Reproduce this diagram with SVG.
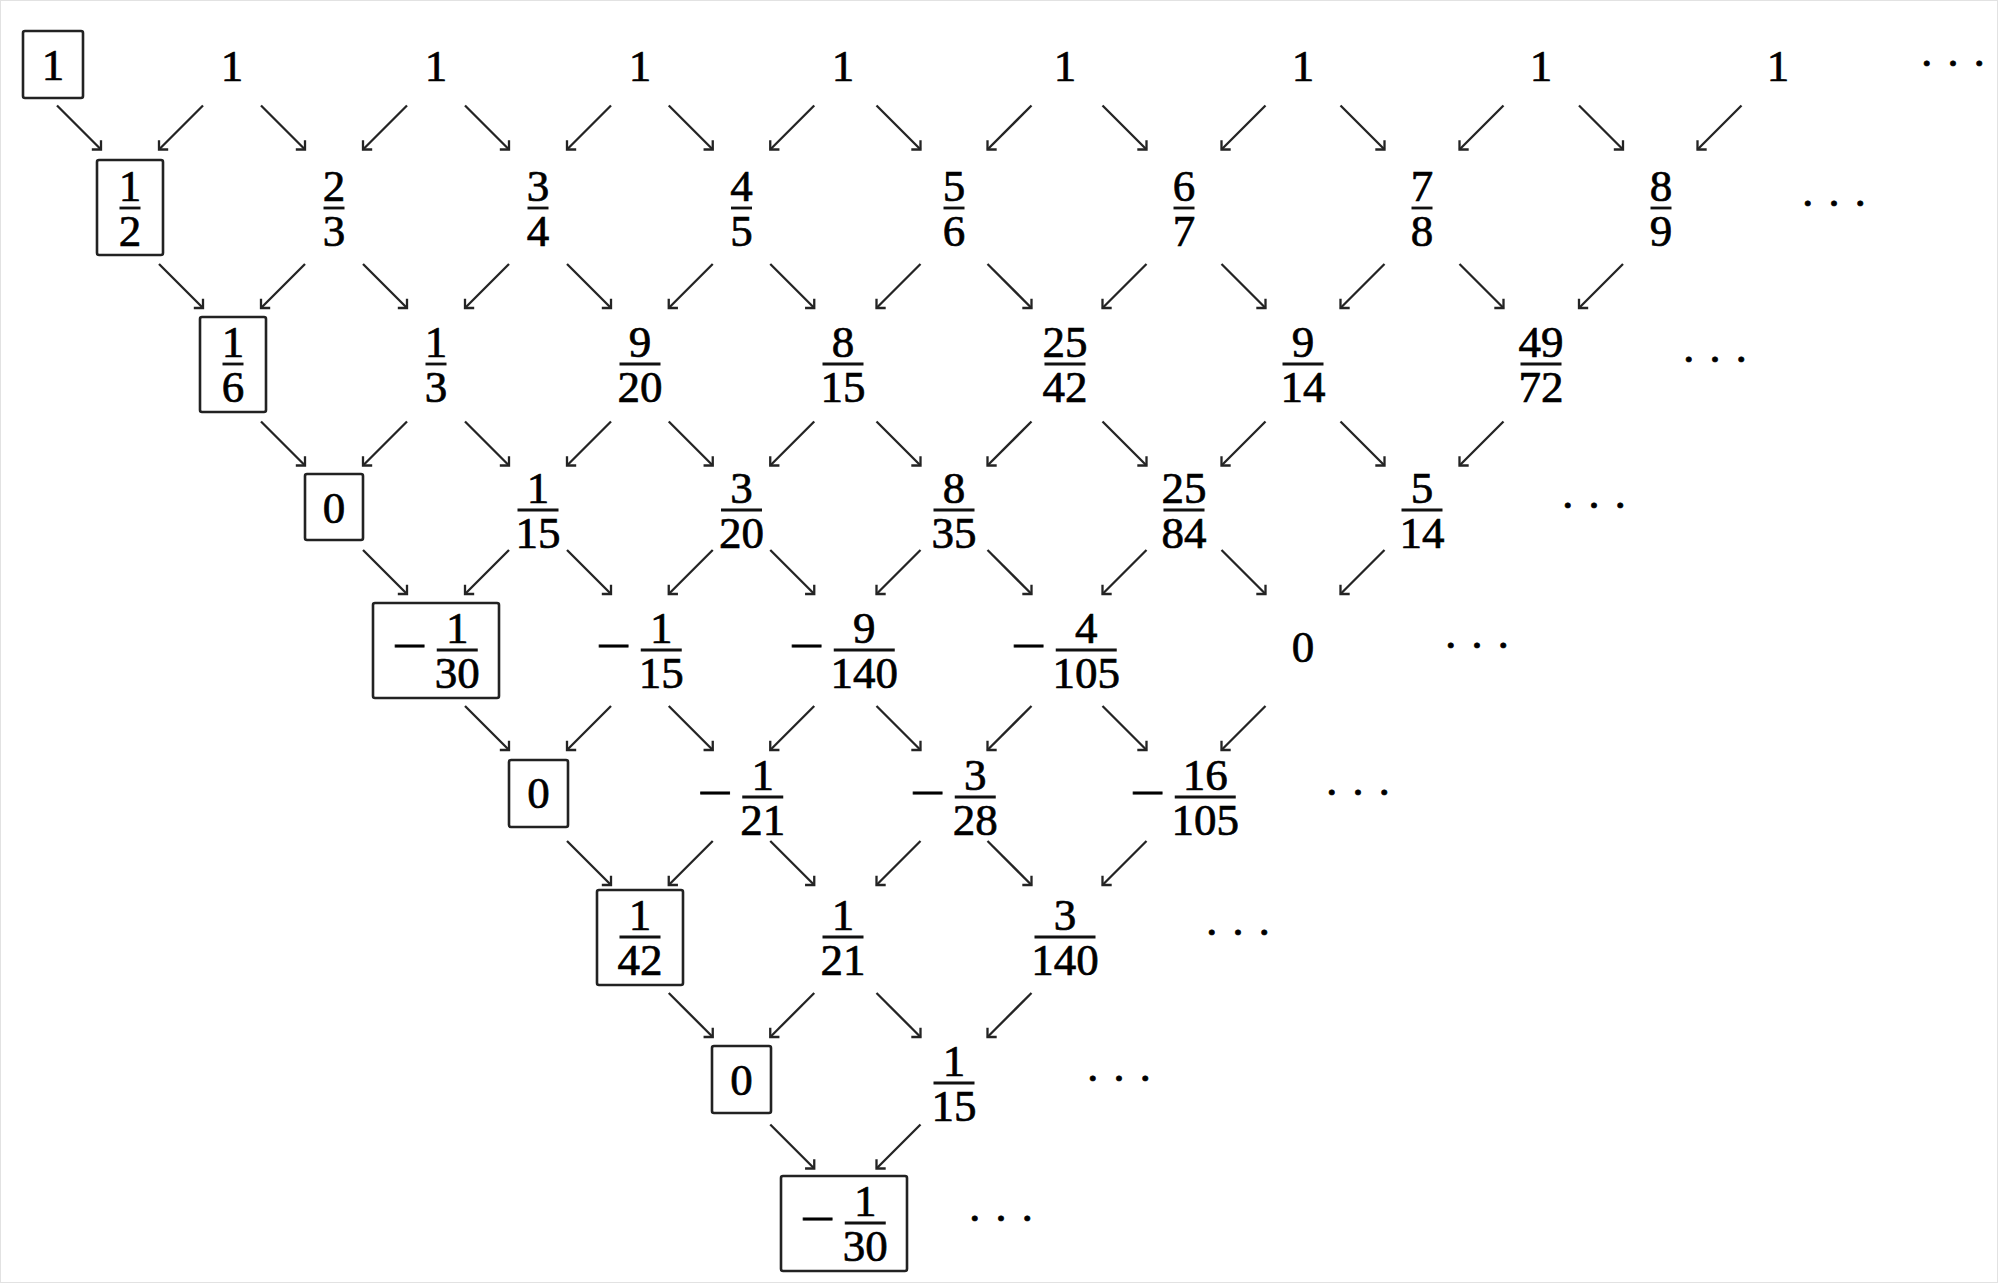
<svg xmlns="http://www.w3.org/2000/svg" width="2000" height="1285" viewBox="0 0 2000 1285">
<style>
.t{font-family:"Liberation Serif","Times New Roman",serif;font-size:45px;text-anchor:middle;fill:#000;stroke:#000;stroke-width:0.7}
.bar{stroke:#111;stroke-width:2.8}
.box{fill:none;stroke:#222;stroke-width:2.6}
.arr{stroke:#242424;stroke-width:2.3;fill:none;marker-end:url(#ah)}
</style>
<defs>
<marker id="ah" viewBox="-8 -8 10 16" refX="0" refY="0" markerWidth="10" markerHeight="16" markerUnits="userSpaceOnUse" orient="auto" overflow="visible">
<path d="M-6.5,-6.5 L0,0 L-6.5,6.5" fill="none" stroke="#242424" stroke-width="2.3"/>
</marker>
</defs>
<rect x="0" y="0" width="2000" height="1285" fill="#fff"/>
<rect x="0.5" y="0.5" width="1997" height="1282" fill="none" stroke="#e2e2e2" stroke-width="1"/>

<g id="connectors">
<!-- gap 0 -->
<line class="arr" x1="57" y1="105.5" x2="101" y2="149.5"/>
<line class="arr" x1="203" y1="105.5" x2="159" y2="149.5"/>
<line class="arr" x1="261" y1="105.5" x2="305" y2="149.5"/>
<line class="arr" x1="407" y1="105.5" x2="363" y2="149.5"/>
<line class="arr" x1="465" y1="105.5" x2="509" y2="149.5"/>
<line class="arr" x1="611" y1="105.5" x2="567" y2="149.5"/>
<line class="arr" x1="668.75" y1="105.5" x2="712.75" y2="149.5"/>
<line class="arr" x1="814.25" y1="105.5" x2="770.25" y2="149.5"/>
<line class="arr" x1="876.5" y1="105.5" x2="920.5" y2="149.5"/>
<line class="arr" x1="1031.5" y1="105.5" x2="987.5" y2="149.5"/>
<line class="arr" x1="1102.5" y1="105.5" x2="1146.5" y2="149.5"/>
<line class="arr" x1="1265.5" y1="105.5" x2="1221.5" y2="149.5"/>
<line class="arr" x1="1340.5" y1="105.5" x2="1384.5" y2="149.5"/>
<line class="arr" x1="1503.5" y1="105.5" x2="1459.5" y2="149.5"/>
<line class="arr" x1="1579" y1="105.5" x2="1623" y2="149.5"/>
<line class="arr" x1="1741.5" y1="105.5" x2="1697.5" y2="149.5"/>
<!-- gap 1 -->
<line class="arr" x1="159" y1="264" x2="203" y2="308"/>
<line class="arr" x1="305" y1="264" x2="261" y2="308"/>
<line class="arr" x1="363" y1="264" x2="407" y2="308"/>
<line class="arr" x1="509" y1="264" x2="465" y2="308"/>
<line class="arr" x1="567" y1="264" x2="611" y2="308"/>
<line class="arr" x1="712.75" y1="264" x2="668.75" y2="308"/>
<line class="arr" x1="770.25" y1="264" x2="814.25" y2="308"/>
<line class="arr" x1="920.5" y1="264" x2="876.5" y2="308"/>
<line class="arr" x1="987.5" y1="264" x2="1031.5" y2="308"/>
<line class="arr" x1="1146.5" y1="264" x2="1102.5" y2="308"/>
<line class="arr" x1="1221.5" y1="264" x2="1265.5" y2="308"/>
<line class="arr" x1="1384.5" y1="264" x2="1340.5" y2="308"/>
<line class="arr" x1="1459.5" y1="264" x2="1503.5" y2="308"/>
<line class="arr" x1="1623" y1="264" x2="1579" y2="308"/>
<!-- gap 2 -->
<line class="arr" x1="261" y1="421.5" x2="305" y2="465.5"/>
<line class="arr" x1="407" y1="421.5" x2="363" y2="465.5"/>
<line class="arr" x1="465" y1="421.5" x2="509" y2="465.5"/>
<line class="arr" x1="611" y1="421.5" x2="567" y2="465.5"/>
<line class="arr" x1="668.75" y1="421.5" x2="712.75" y2="465.5"/>
<line class="arr" x1="814.25" y1="421.5" x2="770.25" y2="465.5"/>
<line class="arr" x1="876.5" y1="421.5" x2="920.5" y2="465.5"/>
<line class="arr" x1="1031.5" y1="421.5" x2="987.5" y2="465.5"/>
<line class="arr" x1="1102.5" y1="421.5" x2="1146.5" y2="465.5"/>
<line class="arr" x1="1265.5" y1="421.5" x2="1221.5" y2="465.5"/>
<line class="arr" x1="1340.5" y1="421.5" x2="1384.5" y2="465.5"/>
<line class="arr" x1="1503.5" y1="421.5" x2="1459.5" y2="465.5"/>
<!-- gap 3 -->
<line class="arr" x1="363" y1="550" x2="407" y2="594"/>
<line class="arr" x1="509" y1="550" x2="465" y2="594"/>
<line class="arr" x1="567" y1="550" x2="611" y2="594"/>
<line class="arr" x1="712.75" y1="550" x2="668.75" y2="594"/>
<line class="arr" x1="770.25" y1="550" x2="814.25" y2="594"/>
<line class="arr" x1="920.5" y1="550" x2="876.5" y2="594"/>
<line class="arr" x1="987.5" y1="550" x2="1031.5" y2="594"/>
<line class="arr" x1="1146.5" y1="550" x2="1102.5" y2="594"/>
<line class="arr" x1="1221.5" y1="550" x2="1265.5" y2="594"/>
<line class="arr" x1="1384.5" y1="550" x2="1340.5" y2="594"/>
<!-- gap 4 -->
<line class="arr" x1="465" y1="706" x2="509" y2="750"/>
<line class="arr" x1="611" y1="706" x2="567" y2="750"/>
<line class="arr" x1="668.75" y1="706" x2="712.75" y2="750"/>
<line class="arr" x1="814.25" y1="706" x2="770.25" y2="750"/>
<line class="arr" x1="876.5" y1="706" x2="920.5" y2="750"/>
<line class="arr" x1="1031.5" y1="706" x2="987.5" y2="750"/>
<line class="arr" x1="1102.5" y1="706" x2="1146.5" y2="750"/>
<line class="arr" x1="1265.5" y1="706" x2="1221.5" y2="750"/>
<!-- gap 5 -->
<line class="arr" x1="567" y1="841" x2="611" y2="885"/>
<line class="arr" x1="712.75" y1="841" x2="668.75" y2="885"/>
<line class="arr" x1="770.25" y1="841" x2="814.25" y2="885"/>
<line class="arr" x1="920.5" y1="841" x2="876.5" y2="885"/>
<line class="arr" x1="987.5" y1="841" x2="1031.5" y2="885"/>
<line class="arr" x1="1146.5" y1="841" x2="1102.5" y2="885"/>
<!-- gap 6 -->
<line class="arr" x1="668.75" y1="993" x2="712.75" y2="1037"/>
<line class="arr" x1="814.25" y1="993" x2="770.25" y2="1037"/>
<line class="arr" x1="876.5" y1="993" x2="920.5" y2="1037"/>
<line class="arr" x1="1031.5" y1="993" x2="987.5" y2="1037"/>
<!-- gap 7 -->
<line class="arr" x1="770.25" y1="1124.5" x2="814.25" y2="1168.5"/>
<line class="arr" x1="920.5" y1="1124.5" x2="876.5" y2="1168.5"/>
</g>

<!-- Row 0 -->
<g id="r0c0"><rect class="box" x="23" y="31" width="60" height="67" rx="2"/><text class="t" x="53" y="80">1</text></g>
<g id="r0c1"><text class="t" x="232" y="80.5">1</text></g>
<g id="r0c2"><text class="t" x="436" y="80.5">1</text></g>
<g id="r0c3"><text class="t" x="640" y="80.5">1</text></g>
<g id="r0c4"><text class="t" x="843" y="80.5">1</text></g>
<g id="r0c5"><text class="t" x="1065" y="80.5">1</text></g>
<g id="r0c6"><text class="t" x="1303" y="80.5">1</text></g>
<g id="r0c7"><text class="t" x="1541" y="80.5">1</text></g>
<g id="r0c8"><text class="t" x="1778" y="80.5">1</text></g>
<g id="r0dots"><text class="t" x="1953" y="78">· · ·</text></g>

<!-- Row 1 -->
<g id="r1c0"><rect class="box" x="97" y="160" width="66" height="95" rx="2"/><line class="bar" x1="119.5" y1="208" x2="140.5" y2="208"/><text class="t" x="130" y="201">1</text><text class="t" x="130" y="246">2</text></g>
<g id="r1c1"><line class="bar" x1="323.5" y1="208" x2="344.5" y2="208"/><text class="t" x="334" y="201">2</text><text class="t" x="334" y="246">3</text></g>
<g id="r1c2"><line class="bar" x1="527.5" y1="208" x2="548.5" y2="208"/><text class="t" x="538" y="201">3</text><text class="t" x="538" y="246">4</text></g>
<g id="r1c3"><line class="bar" x1="731" y1="208" x2="752" y2="208"/><text class="t" x="741.5" y="201">4</text><text class="t" x="741.5" y="246">5</text></g>
<g id="r1c4"><line class="bar" x1="943.5" y1="208" x2="964.5" y2="208"/><text class="t" x="954" y="201">5</text><text class="t" x="954" y="246">6</text></g>
<g id="r1c5"><line class="bar" x1="1173.5" y1="208" x2="1194.5" y2="208"/><text class="t" x="1184" y="201">6</text><text class="t" x="1184" y="246">7</text></g>
<g id="r1c6"><line class="bar" x1="1411.5" y1="208" x2="1432.5" y2="208"/><text class="t" x="1422" y="201">7</text><text class="t" x="1422" y="246">8</text></g>
<g id="r1c7"><line class="bar" x1="1650.5" y1="208" x2="1671.5" y2="208"/><text class="t" x="1661" y="201">8</text><text class="t" x="1661" y="246">9</text></g>
<g id="r1dots"><text class="t" x="1834" y="218">· · ·</text></g>

<!-- Row 2 -->
<g id="r2c0"><rect class="box" x="200" y="317" width="66" height="95" rx="2"/><line class="bar" x1="222.5" y1="364" x2="243.5" y2="364"/><text class="t" x="233" y="357">1</text><text class="t" x="233" y="402">6</text></g>
<g id="r2c1"><line class="bar" x1="425.5" y1="364" x2="446.5" y2="364"/><text class="t" x="436" y="357">1</text><text class="t" x="436" y="402">3</text></g>
<g id="r2c2"><line class="bar" x1="619.5" y1="364" x2="660.5" y2="364"/><text class="t" x="640" y="357">9</text><text class="t" x="640" y="402">20</text></g>
<g id="r2c3"><line class="bar" x1="822.5" y1="364" x2="863.5" y2="364"/><text class="t" x="843" y="357">8</text><text class="t" x="843" y="402">15</text></g>
<g id="r2c4"><line class="bar" x1="1044.5" y1="364" x2="1085.5" y2="364"/><text class="t" x="1065" y="357">25</text><text class="t" x="1065" y="402">42</text></g>
<g id="r2c5"><line class="bar" x1="1282.5" y1="364" x2="1323.5" y2="364"/><text class="t" x="1303" y="357">9</text><text class="t" x="1303" y="402">14</text></g>
<g id="r2c6"><line class="bar" x1="1520.5" y1="364" x2="1561.5" y2="364"/><text class="t" x="1541" y="357">49</text><text class="t" x="1541" y="402">72</text></g>
<g id="r2dots"><text class="t" x="1715" y="374">· · ·</text></g>

<!-- Row 3 -->
<g id="r3c0"><rect class="box" x="305" y="474" width="58" height="66" rx="2"/><text class="t" x="334" y="523">0</text></g>
<g id="r3c1"><line class="bar" x1="517.5" y1="510" x2="558.5" y2="510"/><text class="t" x="538" y="503">1</text><text class="t" x="538" y="548">15</text></g>
<g id="r3c2"><line class="bar" x1="721" y1="510" x2="762" y2="510"/><text class="t" x="741.5" y="503">3</text><text class="t" x="741.5" y="548">20</text></g>
<g id="r3c3"><line class="bar" x1="933.5" y1="510" x2="974.5" y2="510"/><text class="t" x="954" y="503">8</text><text class="t" x="954" y="548">35</text></g>
<g id="r3c4"><line class="bar" x1="1163.5" y1="510" x2="1204.5" y2="510"/><text class="t" x="1184" y="503">25</text><text class="t" x="1184" y="548">84</text></g>
<g id="r3c5"><line class="bar" x1="1401.5" y1="510" x2="1442.5" y2="510"/><text class="t" x="1422" y="503">5</text><text class="t" x="1422" y="548">14</text></g>
<g id="r3dots"><text class="t" x="1594" y="520">· · ·</text></g>

<!-- Row 4 -->
<g id="r4c0"><rect class="box" x="373" y="603" width="126" height="95" rx="2"/><text class="t" x="409.75" y="661" textLength="35" lengthAdjust="spacingAndGlyphs">−</text><line class="bar" x1="436.75" y1="650" x2="477.75" y2="650"/><text class="t" x="457.25" y="643">1</text><text class="t" x="457.25" y="688">30</text></g>
<g id="r4c1"><text class="t" x="613.75" y="661" textLength="35" lengthAdjust="spacingAndGlyphs">−</text><line class="bar" x1="640.75" y1="650" x2="681.75" y2="650"/><text class="t" x="661.25" y="643">1</text><text class="t" x="661.25" y="688">15</text></g>
<g id="r4c2"><text class="t" x="806.75" y="661" textLength="35" lengthAdjust="spacingAndGlyphs">−</text><line class="bar" x1="833.75" y1="650" x2="894.75" y2="650"/><text class="t" x="864.25" y="643">9</text><text class="t" x="864.25" y="688">140</text></g>
<g id="r4c3"><text class="t" x="1028.75" y="661" textLength="35" lengthAdjust="spacingAndGlyphs">−</text><line class="bar" x1="1055.75" y1="650" x2="1116.75" y2="650"/><text class="t" x="1086.25" y="643">4</text><text class="t" x="1086.25" y="688">105</text></g>
<g id="r4c4"><text class="t" x="1303" y="662">0</text></g>
<g id="r4dots"><text class="t" x="1477" y="660">· · ·</text></g>

<!-- Row 5 -->
<g id="r5c0"><rect class="box" x="509" y="760" width="59" height="67" rx="2"/><text class="t" x="538.5" y="808">0</text></g>
<g id="r5c1"><text class="t" x="715.25" y="808" textLength="35" lengthAdjust="spacingAndGlyphs">−</text><line class="bar" x1="742.25" y1="797" x2="783.25" y2="797"/><text class="t" x="762.75" y="790">1</text><text class="t" x="762.75" y="835">21</text></g>
<g id="r5c2"><text class="t" x="927.75" y="808" textLength="35" lengthAdjust="spacingAndGlyphs">−</text><line class="bar" x1="954.75" y1="797" x2="995.75" y2="797"/><text class="t" x="975.25" y="790">3</text><text class="t" x="975.25" y="835">28</text></g>
<g id="r5c3"><text class="t" x="1147.75" y="808" textLength="35" lengthAdjust="spacingAndGlyphs">−</text><line class="bar" x1="1174.75" y1="797" x2="1235.75" y2="797"/><text class="t" x="1205.25" y="790">16</text><text class="t" x="1205.25" y="835">105</text></g>
<g id="r5dots"><text class="t" x="1358" y="807">· · ·</text></g>

<!-- Row 6 -->
<g id="r6c0"><rect class="box" x="597" y="890" width="86" height="95" rx="2"/><line class="bar" x1="619.5" y1="937" x2="660.5" y2="937"/><text class="t" x="640" y="930">1</text><text class="t" x="640" y="975">42</text></g>
<g id="r6c1"><line class="bar" x1="822.5" y1="937" x2="863.5" y2="937"/><text class="t" x="843" y="930">1</text><text class="t" x="843" y="975">21</text></g>
<g id="r6c2"><line class="bar" x1="1034.5" y1="937" x2="1095.5" y2="937"/><text class="t" x="1065" y="930">3</text><text class="t" x="1065" y="975">140</text></g>
<g id="r6dots"><text class="t" x="1238" y="947">· · ·</text></g>

<!-- Row 7 -->
<g id="r7c0"><rect class="box" x="712" y="1046" width="59" height="67" rx="2"/><text class="t" x="741.5" y="1095">0</text></g>
<g id="r7c1"><line class="bar" x1="933.5" y1="1083" x2="974.5" y2="1083"/><text class="t" x="954" y="1076">1</text><text class="t" x="954" y="1121">15</text></g>
<g id="r7dots"><text class="t" x="1119" y="1093">· · ·</text></g>

<!-- Row 8 -->
<g id="r8c0"><rect class="box" x="781" y="1176" width="126" height="95" rx="2"/><text class="t" x="817.75" y="1234" textLength="35" lengthAdjust="spacingAndGlyphs">−</text><line class="bar" x1="844.75" y1="1223" x2="885.75" y2="1223"/><text class="t" x="865.25" y="1216">1</text><text class="t" x="865.25" y="1261">30</text></g>
<g id="r8dots"><text class="t" x="1001" y="1233">· · ·</text></g>
</svg>
